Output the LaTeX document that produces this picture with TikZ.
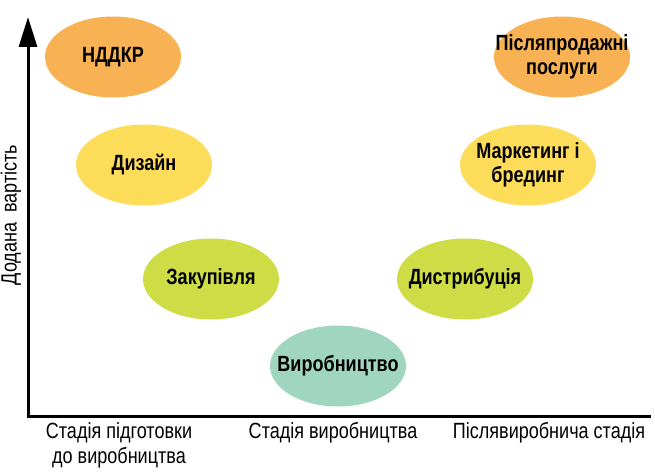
\documentclass[tikz,border=0pt]{standalone}
\usepackage{fontspec}
\setmainfont{Liberation Sans}[FakeStretch=0.82]
\usetikzlibrary{shapes.geometric,arrows.meta}
\definecolor{corange}{HTML}{F8B153}
\definecolor{cyellow}{HTML}{FDDC5A}
\definecolor{cgreen}{HTML}{CEDC45}
\definecolor{cmint}{HTML}{A0D6C0}
\tikzset{
  blob/.style={ellipse,minimum width=136pt,minimum height=81pt,inner xsep=-30pt,inner ysep=0pt,
    font=\fontsize{22}{24}\selectfont\bfseries,align=center},
  axlab/.style={font=\fontsize{22}{25}\selectfont,align=center}
}
\begin{document}
\begin{tikzpicture}[x=1pt,y=-1pt]
\useasboundingbox (0,0) rectangle (655,473);
\node[blob,fill=corange] (a) at (113,57) {НДДКР};
\node[blob,fill=cyellow] (b) at (144,165) {Дизайн};
\node[blob,fill=cgreen] (c) at (211,279) {Закупівля};
\node[blob,fill=cmint] (d) at (338,366) {Виробництво};
\node[blob,fill=cgreen] (e) at (465,279) {Дистрибуція};
\node[blob,fill=cyellow] (f) at (528,165) {Маркетинг і\\брединг};
\node[blob,fill=corange] (g) at (562,57) {Післяпродажні\\послуги};
\coordinate (o) at (28,416);
\coordinate (top) at (28,17);
\coordinate (right) at (651,416);
\draw[line width=3pt,-{Triangle[length=30pt,width=18pt]}] ([yshift=1.5pt]o) -- (top);
\draw[line width=3pt] ([xshift=-1.5pt]o) -- (right);
\node[axlab] (x1) at (119,445) {Стадія підготовки\\до виробництва};
\node[axlab] (x2) at (333,433) {Стадія виробництва};
\node[axlab] (x3) at (549,433) {Післявиробнича стадія};
\node[axlab,rotate=90] (yl) at (11,215) {Додана\ \ вартість};
\end{tikzpicture}
\end{document}
